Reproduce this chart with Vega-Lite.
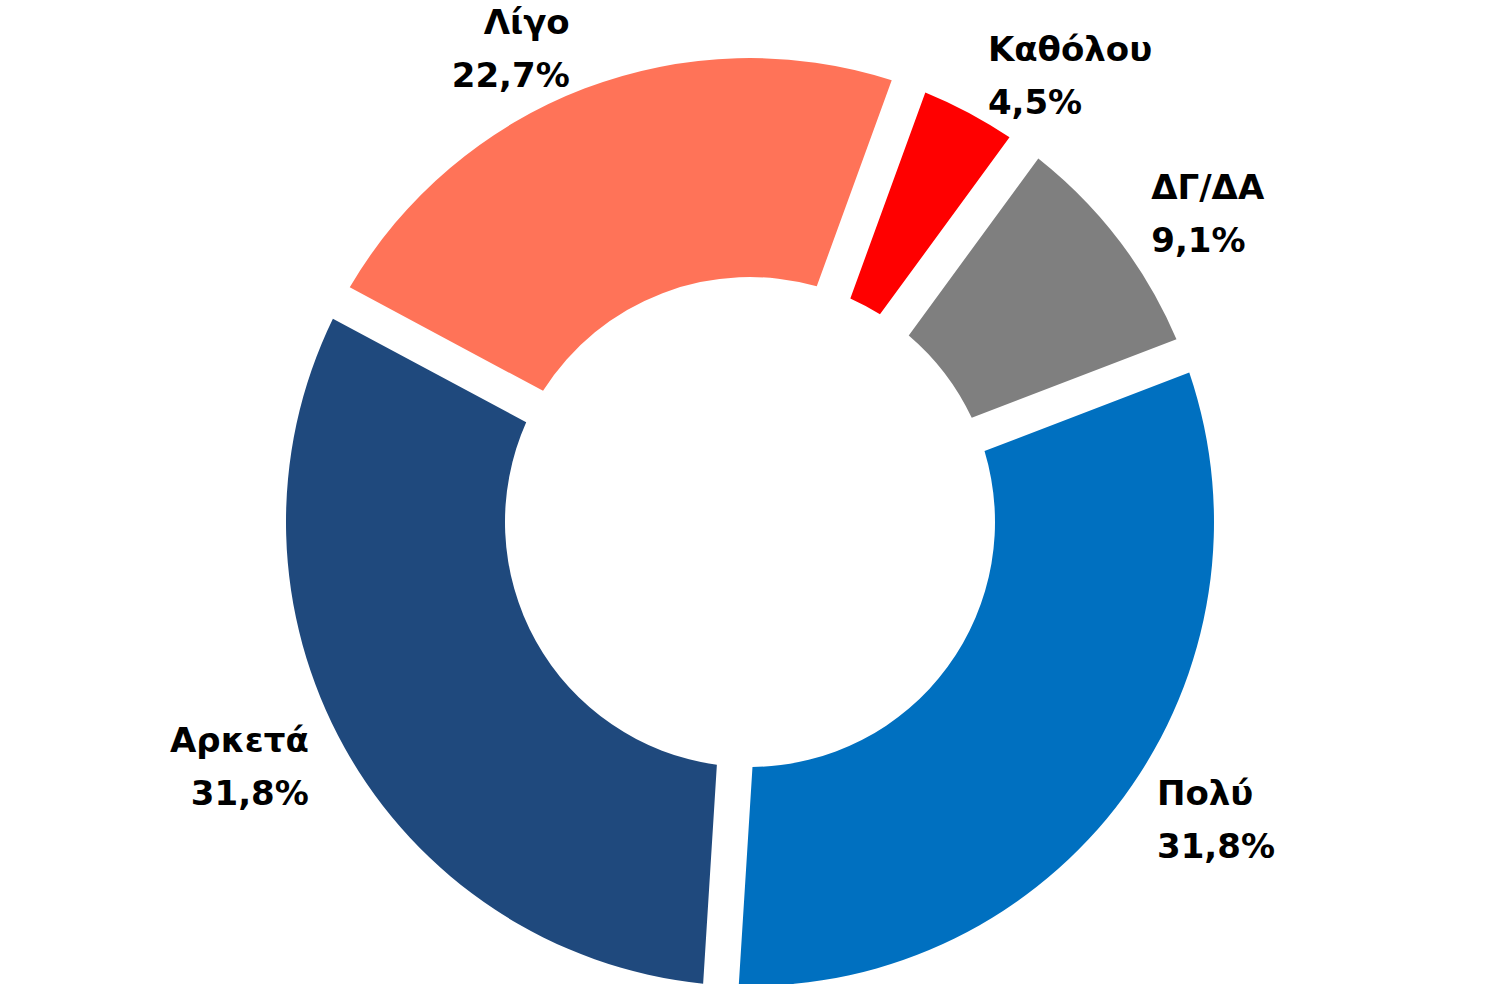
{
  "$schema": "https://vega.github.io/schema/vega-lite/v6.json",
  "width": 1500,
  "height": 924,
  "autosize": {"type": "none"},
  "padding": {"top": 60, "left": 0, "right": 9, "bottom": 0},
  "background": "white",
  "config": {
    "view": {"stroke": null},
    "locale": {"number": {"decimal": ",", "thousands": ".", "grouping": [3], "currency": ["", " €"]}}
  },
  "data": {
    "values": [
      {"cat": "Καθόλου", "share": 0.045, "rank": 1},
      {"cat": "ΔΓ/ΔΑ", "share": 0.091, "rank": 2},
      {"cat": "Πολύ", "share": 0.318, "rank": 3},
      {"cat": "Αρκετά", "share": 0.318, "rank": 4},
      {"cat": "Λίγο", "share": 0.227, "rank": 5}
    ]
  },
  "layer": [
    {
      "mark": {"type": "arc", "innerRadius": 245, "outerRadius": 464, "padAngle": 0.068},
      "encoding": {
        "theta": {"field": "share", "type": "quantitative", "stack": true, "scale": {"range": [0.349, 6.632]}},
        "order": {"field": "rank", "type": "quantitative"},
        "color": {
          "field": "cat", "type": "nominal",
          "scale": {
            "domain": ["Καθόλου", "ΔΓ/ΔΑ", "Πολύ", "Αρκετά", "Λίγο"],
            "range": ["#FF0000", "#7F7F7F", "#0070C0", "#1F497D", "#FF7358"]
          },
          "legend": null
        }
      }
    },
    {
      "mark": {"type": "text", "radius": 505, "align": "left", "baseline": "middle", "dy": -26, "font": "DejaVu Sans", "fontWeight": "bold", "fontSize": 34, "color": "black"},
      "encoding": {
        "theta": {"field": "share", "type": "quantitative", "stack": true},
        "order": {"field": "rank", "type": "quantitative"},
        "text": {"condition": {"test": "datum.cat === 'Λίγο' || datum.cat === 'Αρκετά'", "value": ""}, "field": "cat", "type": "nominal"}
      }
    },
    {
      "mark": {"type": "text", "radius": 505, "align": "left", "baseline": "middle", "dy": 27, "font": "DejaVu Sans", "fontWeight": "bold", "fontSize": 34, "color": "black"},
      "encoding": {
        "theta": {"field": "share", "type": "quantitative", "stack": true},
        "order": {"field": "rank", "type": "quantitative"},
        "text": {"condition": {"test": "datum.cat === 'Λίγο' || datum.cat === 'Αρκετά'", "value": ""}, "field": "share", "type": "quantitative", "format": ".1%"}
      }
    },
    {
      "mark": {"type": "text", "radius": 505, "align": "right", "baseline": "middle", "dy": -26, "font": "DejaVu Sans", "fontWeight": "bold", "fontSize": 34, "color": "black"},
      "encoding": {
        "theta": {"field": "share", "type": "quantitative", "stack": true},
        "order": {"field": "rank", "type": "quantitative"},
        "text": {"condition": {"test": "datum.cat !== 'Λίγο' && datum.cat !== 'Αρκετά'", "value": ""}, "field": "cat", "type": "nominal"}
      }
    },
    {
      "mark": {"type": "text", "radius": 505, "align": "right", "baseline": "middle", "dy": 27, "font": "DejaVu Sans", "fontWeight": "bold", "fontSize": 34, "color": "black"},
      "encoding": {
        "theta": {"field": "share", "type": "quantitative", "stack": true},
        "order": {"field": "rank", "type": "quantitative"},
        "text": {"condition": {"test": "datum.cat !== 'Λίγο' && datum.cat !== 'Αρκετά'", "value": ""}, "field": "share", "type": "quantitative", "format": ".1%"}
      }
    }
  ]
}
